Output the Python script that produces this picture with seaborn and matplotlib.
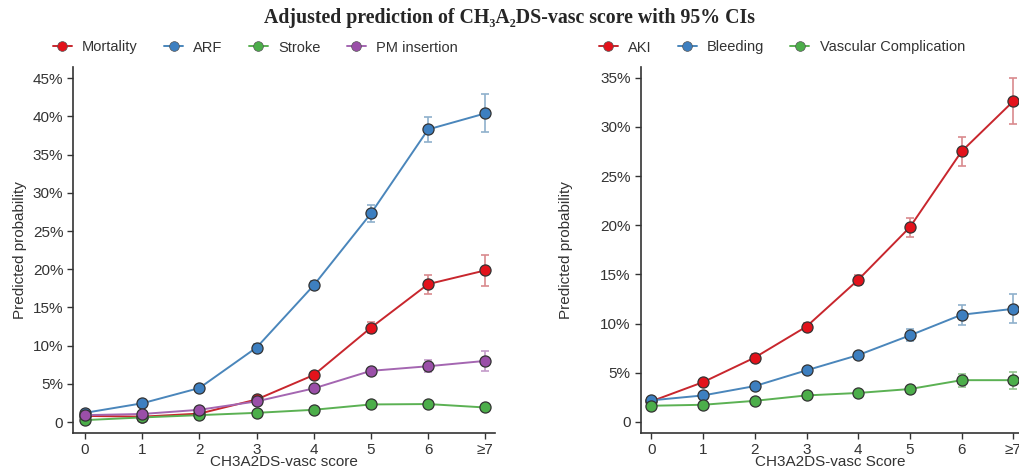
import matplotlib.pyplot as plt
import seaborn as sns
import pandas as pd

# score categories
scores = [0, 1, 2, 3, 4, 5, 6, 7]
score_labels = ['0', '1', '2', '3', '4', '5', '6', '≥7']

# left panel (percent)
mortality = [0.8, 0.7, 1.1, 2.95, 6.15, 12.35, 18.05, 19.85]
mortality_lo = [0.6, 0.5, 0.9, 2.6, 5.7, 11.6, 16.75, 17.8]
mortality_hi = [1.0, 0.9, 1.3, 3.3, 6.6, 13.1, 19.3, 21.9]
arf = [1.2, 2.45, 4.45, 9.75, 17.9, 27.3, 38.3, 40.4]
arf_lo = [1.0, 2.2, 4.1, 9.3, 17.4, 26.2, 36.7, 38.0]
arf_hi = [1.4, 2.7, 4.8, 10.2, 18.4, 28.4, 39.9, 42.9]
stroke = [0.25, 0.6, 0.9, 1.2, 1.6, 2.3, 2.35, 1.9]
stroke_lo = [0.15, 0.5, 0.8, 1.05, 1.4, 2.0, 2.0, 1.5]
stroke_hi = [0.35, 0.7, 1.0, 1.35, 1.8, 2.6, 2.7, 2.3]
pm = [0.9, 1.05, 1.6, 2.7, 4.4, 6.7, 7.3, 8.0]
pm_lo = [0.7, 0.85, 1.35, 2.4, 4.0, 6.3, 6.6, 6.7]
pm_hi = [1.1, 1.25, 1.85, 3.0, 4.8, 7.1, 8.1, 9.3]

# right panel (percent)
aki = [2.1, 4.05, 6.55, 9.7, 14.45, 19.8, 27.5, 32.6]
aki_lo = [1.9, 3.8, 6.2, 9.3, 13.95, 18.85, 26.0, 30.3]
aki_hi = [2.3, 4.3, 6.9, 10.1, 14.95, 20.7, 29.0, 34.95]
bleeding = [2.2, 2.7, 3.65, 5.25, 6.8, 8.8, 10.9, 11.5]
bleeding_lo = [2.0, 2.45, 3.35, 4.95, 6.45, 8.2, 9.9, 10.1]
bleeding_hi = [2.4, 2.95, 3.95, 5.55, 7.15, 9.5, 11.9, 13.0]
vascular = [1.65, 1.75, 2.15, 2.7, 2.95, 3.35, 4.25, 4.25]
vascular_lo = [1.45, 1.55, 1.9, 2.45, 2.7, 3.05, 3.6, 3.4]
vascular_hi = [1.85, 1.95, 2.4, 2.95, 3.2, 3.65, 4.9, 5.1]

red = '#e3121b'
blue = '#3d7fc0'
green = '#4cae4a'
purple = '#9a4fa8'
line_cols = {red: '#c8262d', blue: '#4a86bb', green: '#5bb153', purple: '#a466b1'}
ci_cols = {red: '#d98a8e', blue: '#8fb0cc', green: '#93c58f', purple: '#c49bca'}

sns.set_theme(style='ticks')
plt.rcParams['font.family'] = ['Liberation Sans', 'DejaVu Sans']

fig = plt.figure(figsize=(10.2, 4.75), dpi=100)
ax1 = fig.add_axes([0.0716, 0.0884, 0.414, 0.771])
ax2 = fig.add_axes([0.628, 0.0884, 0.372, 0.771])


def draw(ax, series):
    handles = []
    for name, vals, lo, hi, col in series:
        df = pd.DataFrame({'score': scores, 'p': vals})
        ax.errorbar(scores, vals,
                    yerr=[[v - l for v, l in zip(vals, lo)], [h - v for v, h in zip(vals, hi)]],
                    fmt='none', ecolor=ci_cols[col], elinewidth=1.2, capsize=3, capthick=1.2, zorder=2)
        sns.lineplot(data=df, x='score', y='p', ax=ax, color=line_cols[col], linewidth=1.4,
                     marker='o', markersize=8, markerfacecolor=col, markeredgecolor='#333333',
                     markeredgewidth=0.9, zorder=3)
        handles.append(plt.Line2D([], [], color=line_cols[col], linewidth=1.4, marker='o', markersize=7,
                                  markerfacecolor=col, markeredgecolor='#555555', markeredgewidth=0.5,
                                  label=name))
    ax.set_xticks(scores)
    ax.set_xticklabels(score_labels)
    ax.tick_params(labelsize=11, colors='#333333', length=4, width=1, pad=3)
    for s in ['left', 'bottom']:
        ax.spines[s].set_color('#333333')
        ax.spines[s].set_linewidth(1.2)
    sns.despine(ax=ax)
    return handles


h1 = draw(ax1, [('Mortality', mortality, mortality_lo, mortality_hi, red),
                ('ARF', arf, arf_lo, arf_hi, blue),
                ('Stroke', stroke, stroke_lo, stroke_hi, green),
                ('PM insertion', pm, pm_lo, pm_hi, purple)])
ax1.set_xlim(-0.21, 7.175)
ax1.set_ylim(-1.44, 46.5)
ax1.set_yticks(range(0, 46, 5))
ax1.set_yticklabels(['0'] + [f'{v}%' for v in range(5, 46, 5)])
ax1.set_xlabel('CH3A2DS-vasc score', fontsize=11, color='#333333', labelpad=-1)
ax1.set_ylabel('Predicted probability', fontsize=11, color='#333333', labelpad=4)

h2 = draw(ax2, [('AKI', aki, aki_lo, aki_hi, red),
                ('Bleeding', bleeding, bleeding_lo, bleeding_hi, blue),
                ('Vascular Complication', vascular, vascular_lo, vascular_hi, green)])
ax2.set_xlim(-0.21, 7.13)
ax2.set_ylim(-1.12, 36.1)
ax2.set_yticks(range(0, 36, 5))
ax2.set_yticklabels(['0'] + [f'{v}%' for v in range(5, 36, 5)])
ax2.set_xlabel('CH3A2DS-vasc Score', fontsize=11, color='#333333', labelpad=-1)
ax2.set_ylabel('Predicted probability', fontsize=11, color='#333333', labelpad=20)

fig.legend(handles=h1, loc='center left', bbox_to_anchor=(0.039, 0.9), ncol=4, frameon=False,
           fontsize=10.5, handlelength=1.3, columnspacing=1.8, handletextpad=0.7, labelcolor='#333333')
fig.legend(handles=h2, loc='center left', bbox_to_anchor=(0.574, 0.9), ncol=3, frameon=False,
           fontsize=10.5, handlelength=1.3, columnspacing=1.8, handletextpad=0.7, labelcolor='#333333')

fig.text(0.5, 0.962, 'Adjusted prediction of CH₃A₂DS-vasc score with 95% CIs', ha='center', va='center',
         fontsize=14.3, fontweight='bold', family=['Liberation Serif', 'DejaVu Serif'])

fig.savefig('out.png', dpi=100, facecolor='white')
